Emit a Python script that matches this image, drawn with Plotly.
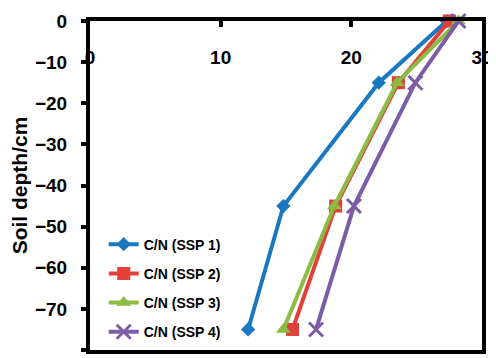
import plotly.graph_objects as go

depth = [0, -15, -45, -75]
ssp1 = [27.3, 22.1, 14.8, 12.1]
ssp2 = [27.5, 23.6, 18.8, 15.5]
ssp3 = [28.2, 23.5, 18.7, 14.8]
ssp4 = [28.2, 24.9, 20.2, 17.3]
names = ["C/N (SSP 1)", "C/N (SSP 2)", "C/N (SSP 3)", "C/N (SSP 4)"]
colors = ["#1a78c2", "#e2413a", "#8bbb43", "#7d5ca6"]
symbols = ["diamond", "square", "triangle-up", "x-thin"]
sizes = [11, 13, 13, 14]
xticks = [0, 10, 20, 30]
yticks = [0, -10, -20, -30, -40, -50, -60, -70, -80]

FONT = "Arial, Liberation Sans, sans-serif"

fig = go.Figure()
for i, vals in enumerate([ssp1, ssp2, ssp3, ssp4]):
    marker = dict(symbol=symbols[i], size=sizes[i], color=colors[i])
    if symbols[i] == "x-thin":
        marker["line"] = dict(color=colors[i], width=3)
    fig.add_trace(go.Scatter(
        x=vals, y=depth, mode="lines+markers", name=names[i],
        legendgroup=f"g{i}",
        line=dict(color=colors[i], width=4),
        marker=marker,
        cliponaxis=False,
    ))

# page body adds an 8px offset, so the figure is 8px smaller than the window
fig.update_layout(
    width=488, height=350,
    margin=dict(l=82, r=14, t=13, b=8),
    paper_bgcolor="white", plot_bgcolor="white",
    font=dict(family=FONT, color="black"),
    showlegend=True,
    legend=dict(
        x=0.035, y=0.369, xanchor="left", yanchor="top",
        font=dict(family=FONT, size=14, weight="bold", color="black"),
        tracegroupgap=8, bgcolor="rgba(0,0,0,0)",
    ),
    xaxis=dict(
        range=[0, 30], tickvals=xticks, side="top", automargin=False,
        showline=True, linecolor="black", linewidth=4, mirror=True,
        ticks="inside", ticklen=6, tickwidth=4, tickcolor="black",
        ticklabelstandoff=-55,
        tickfont=dict(family=FONT, size=19, weight="bold", color="black"),
        showgrid=False, zeroline=False,
    ),
    yaxis=dict(
        range=[-80, 0], tickvals=yticks, automargin=False,
        showline=True, linecolor="black", linewidth=4, mirror=True,
        ticks="outside", ticklen=5, tickwidth=4, tickcolor="black",
        ticklabelstandoff=10,
        tickfont=dict(family=FONT, size=19, weight="bold", color="black"),
        title=dict(text="Soil depth/cm", standoff=12,
                   font=dict(family=FONT, size=21, weight="bold", color="black")),
        showgrid=False, zeroline=False,
    ),
)

fig.write_html("out.html")
